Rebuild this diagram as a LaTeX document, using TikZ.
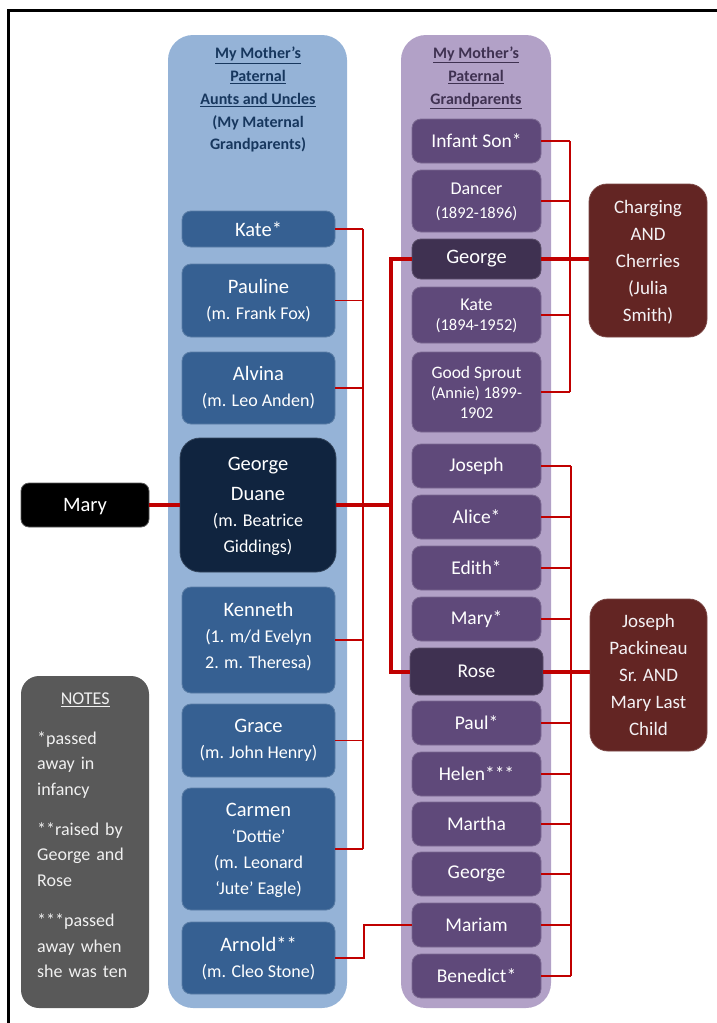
\documentclass[tikz,border=0pt]{standalone}
\usepackage{fontspec}
\setmainfont{Carlito}

% palette
\definecolor{colL}{HTML}{95B3D7}
\definecolor{boxL}{HTML}{366092}
\definecolor{boxLD}{HTML}{10243F}
\definecolor{colR}{HTML}{B2A1C7}
\definecolor{boxR}{HTML}{5F497A}
\definecolor{boxRD}{HTML}{3F3151}
\definecolor{boxRed}{HTML}{632523}
\definecolor{lineRed}{HTML}{C00000}
\definecolor{noteGray}{HTML}{595959}
\definecolor{headL}{HTML}{17375E}
\definecolor{headR}{HTML}{3F3151}
\definecolor{paleText}{HTML}{F4F1F4}

% secondary line sizes inside boxes
\newcommand\subL{\fontsize{18}{26}\selectfont}
\newcommand\subR{\fontsize{16.5}{20}\selectfont}

\tikzset{
  colbg/.style={rounded corners=25pt, inner sep=0pt, minimum height=973pt},
  headtext/.style={align=center, inner sep=0pt, text depth=0pt,
    font=\bfseries\fontsize{16}{22.75}\selectfont},
  lbox/.style={fill=boxL, draw=boxL!82!white, line width=0.8pt, rounded corners=9pt,
    text=white, align=center, minimum width=153pt, inner sep=0pt,
    font=\fontsize{20.5}{26}\selectfont},
  rbox/.style={fill=boxR, draw=boxR!82!white, line width=0.8pt, rounded corners=9pt,
    text=white, align=center, minimum width=129pt, minimum height=44pt, inner sep=0pt,
    font=\fontsize{19.5}{24}\selectfont},
  redbox/.style={fill=boxRed, draw=boxRed!85!white, line width=0.8pt, rounded corners=18pt,
    text=paleText, align=center, minimum width=118pt, minimum height=153pt, inner sep=0pt,
    font=\fontsize{19}{27}\selectfont},
  thinlink/.style={draw=lineRed, line width=1.8pt},
  thicklink/.style={draw=lineRed, line width=4pt},
  midlink/.style={draw=lineRed, line width=2.6pt},
}

\begin{document}
\begin{tikzpicture}[x=1pt, y=-1pt]
\useasboundingbox (0,0) rectangle (717,1023);

% column backgrounds
\node[colbg, fill=colL, minimum width=179pt] (leftcol) at (257.5,521.5) {};
\node[colbg, fill=colR, minimum width=150pt] (rightcol) at (476,521.5) {};

% column headings
\node[headtext, text=headL] (headleft) at (258,98.5)
  {\underline{My Mother’s}\\\underline{Paternal}\\\underline{Aunts and Uncles}\\(My Maternal\\Grandparents)};
\node[headtext, text=headR] (headright) at (476,75.5)
  {\underline{My Mother’s}\\\underline{Paternal}\\\underline{Grandparents}};

% aunts and uncles
\node[lbox, minimum height=36pt] (kate1) at (258.5,229) {Kate*};
\node[lbox, minimum height=73pt] (pauline) at (258.5,300.5) {Pauline\\\subL (m. Frank Fox)};
\node[lbox, minimum height=72pt] (alvina) at (258.5,388) {Alvina\\\subL (m. Leo Anden)};
\node[lbox, fill=boxLD, draw=boxLD!85!white, minimum width=156pt, minimum height=134pt,
      rounded corners=20pt, text depth=0pt] (georgeD) at (258,505)
  {George\\[4pt]Duane\\\subL (m. Beatrice\\\subL Giddings)};
\node[lbox, minimum height=106pt, text depth=9pt] (kenneth) at (258.5,640)
  {Kenneth\\\subL (1. m/d Evelyn\\\subL 2. m. Theresa)};
\node[lbox, minimum height=73pt] (grace) at (258.5,740.5) {Grace\\\subL (m. John Henry)};
\node[lbox, minimum height=122pt, text depth=0pt] (carmen) at (258.5,849)
  {Carmen\\\subL ‘Dottie’\\\subL (m. Leonard\\\subL ‘Jute’ Eagle)};
\node[lbox, minimum height=72pt] (arnold) at (258.5,958) {Arnold**\\\subL (m. Cleo Stone)};

% grandparents' generation, first family
\node[rbox] (infant) at (476.5,141) {Infant Son*};
\node[rbox, minimum height=62pt, text depth=0pt, font=\fontsize{18}{24}\selectfont]
  (dancer) at (476.5,201) {Dancer\\\subR (1892-1896)};
\node[rbox, fill=boxRD, draw=boxRD!85!white, minimum height=40pt,
      font=\fontsize{20.5}{24}\selectfont] (georgeR) at (476.5,259) {George};
\node[rbox, minimum height=56pt, text depth=0pt, font=\fontsize{18}{20}\selectfont]
  (kate2) at (476.5,315) {Kate\\\subR (1894-1952)};
\node[rbox, minimum height=80pt, font=\fontsize{17.5}{20}\selectfont] (sprout) at (476.5,392)
  {Good Sprout\\\subR (Annie) 1899-\\\subR 1902};

% second family
\node[rbox] (joseph) at (476.5,466) {Joseph};
\node[rbox] (alice) at (476.5,517) {Alice*};
\node[rbox] (edith) at (476.5,568) {Edith*};
\node[rbox] (maryS) at (476.5,619) {Mary*};
\node[rbox, fill=boxRD, draw=boxRD!85!white, minimum width=133pt, minimum height=47pt]
  (rose) at (476.5,671.5) {Rose};
\node[rbox] (paul) at (476.5,723) {Paul*};
\node[rbox] (helen) at (476.5,774) {Helen***};
\node[rbox] (martha) at (476.5,824) {Martha};
\node[rbox] (georgeS) at (476.5,874) {George};
\node[rbox] (mariam) at (476.5,925) {Mariam};
\node[rbox] (benedict) at (476.5,976) {Benedict*};

% parents of George and of Rose
\node[redbox, text depth=0pt] (charging) at (648,260.5) {Charging\\AND\\Cherries\\(Julia\\Smith)};
\node[redbox, minimum width=117pt, minimum height=152pt] (packineau) at (648.5,675)
  {Joseph\\Packineau\\Sr. AND\\Mary Last\\Child};

% Mary
\node[fill=black, draw=black!65, line width=0.8pt, rounded corners=8pt, minimum width=128pt,
      minimum height=44pt, inner sep=0pt, text depth=0pt, text=white,
      font=\fontsize{20.5}{24}\selectfont] (mary) at (85,505) {Mary};

% notes panel
\node[fill=noteGray, rounded corners=18pt, minimum width=128pt, minimum height=332pt,
      inner sep=0pt] (notes) at (85,842) {};
\node[anchor=north west, inner sep=0pt, text width=96pt, align=left, text=white!94!black,
      font=\fontsize{18}{25.5}\selectfont] (notestext) at (37,692.5)
  {\makebox[\hsize]{\underline{NOTES}}\\[14.5pt]
   *passed\\away in\\infancy\\[14.5pt]
   **raised by\\George and\\Rose\\[15pt]
   ***passed\\away when\\she was ten};

% bus lines
\coordinate (lbus) at (363,0);
\coordinate (jl) at (391,505);
\coordinate (rbusA) at (570,0);
\coordinate (rbusB) at (571,0);
\coordinate (abend) at (364,0);

% siblings of George Duane
\foreach \n in {kate1,pauline,alvina,kenneth,grace,carmen}
  \draw[thinlink] (\n.east) -- (\n.east -| lbus);
\draw[thinlink] (kate1.east -| lbus) -- (carmen.east -| lbus);

% Mary to her father, and his parents
\draw[thicklink] (mary.east) -- (georgeD.west);
\draw[thicklink] (georgeD.east) -- (jl);
\draw[thicklink] (georgeR.west) -| (jl) |- (rose.west);

% George's siblings and parents
\foreach \n in {infant,dancer,kate2,sprout}
  \draw[thinlink] (\n.east) -- (\n.east -| rbusA);
\draw[thinlink] (infant.east -| rbusA) -- (sprout.east -| rbusA);
\draw[thicklink] (georgeR.east) -- (georgeR.east -| charging.west);

% Rose's siblings and parents
\foreach \n in {joseph,alice,edith,maryS,paul,helen,martha,georgeS,mariam,benedict}
  \draw[thinlink] (\n.east) -- (\n.east -| rbusB);
\draw[thinlink] (joseph.east -| rbusB) -- (benedict.east -| rbusB);
\draw[thicklink] (rose.east) -- (rose.east -| packineau.west);

% Arnold raised in the family
\draw[midlink] (arnold.east) -- (arnold.east -| abend) |- (mariam.west);

% page frame
\draw[line width=3pt, line join=miter] (717,10) -- (8,10) -- (8,1023);
\end{tikzpicture}
\end{document}
